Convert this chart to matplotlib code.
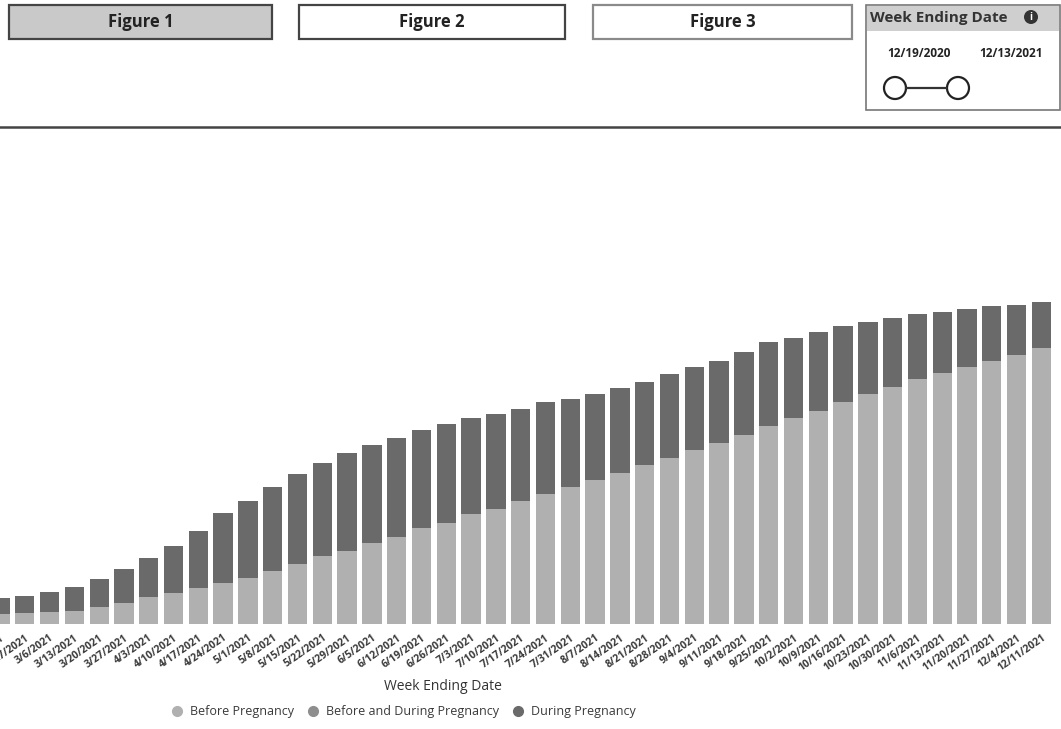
import matplotlib
matplotlib.use("Agg")
import matplotlib.pyplot as plt
from matplotlib.patches import Rectangle, Circle
from matplotlib.lines import Line2D

plt.rcParams['font.family'] = ['Open Sans', 'DejaVu Sans']

# Week ending dates (first one is cut off at the left edge of the visual)
weeks = ["2/20/2021", "2/27/2021", "3/6/2021", "3/13/2021", "3/20/2021", "3/27/2021",
         "4/3/2021", "4/10/2021", "4/17/2021", "4/24/2021", "5/1/2021", "5/8/2021",
         "5/15/2021", "5/22/2021", "5/29/2021", "6/5/2021", "6/12/2021", "6/19/2021",
         "6/26/2021", "7/3/2021", "7/10/2021", "7/17/2021", "7/24/2021", "7/31/2021",
         "8/7/2021", "8/14/2021", "8/21/2021", "8/28/2021", "9/4/2021", "9/11/2021",
         "9/18/2021", "9/25/2021", "10/2/2021", "10/9/2021", "10/16/2021", "10/23/2021",
         "10/30/2021", "11/6/2021", "11/13/2021", "11/20/2021", "11/27/2021", "12/4/2021",
         "12/11/2021"]

# cumulative percentages
before_preg = [1.3, 1.4, 1.5, 1.6, 2.1, 2.6, 3.4, 3.9, 4.5, 5.1, 5.8, 6.6, 7.5, 8.5,
               9.1, 10.1, 10.9, 12.0, 12.6, 13.8, 14.4, 15.4, 16.3, 17.1, 18.0, 18.9,
               19.9, 20.8, 21.8, 22.6, 23.6, 24.8, 25.8, 26.6, 27.8, 28.8, 29.6, 30.6,
               31.4, 32.1, 32.9, 33.6, 34.5]
before_and_during = [0.0] * len(weeks)  # not visible in the scan
during_preg = [2.0, 2.1, 2.5, 3.0, 3.5, 4.3, 4.8, 5.9, 7.1, 8.8, 9.6, 10.5, 11.3, 11.6,
               12.3, 12.3, 12.4, 12.3, 12.4, 12.0, 11.9, 11.5, 11.4, 11.0, 10.8, 10.6,
               10.4, 10.4, 10.3, 10.3, 10.4, 10.4, 10.0, 9.9, 9.4, 9.0, 8.6, 8.1,
               7.6, 7.3, 6.8, 6.3, 5.8]

series_names = ["Before Pregnancy", "Before and During Pregnancy", "During Pregnancy"]
colors = ["#b0b0b0", "#8e8e8e", "#6a6a6a"]

W, H = 1061, 729
fig = plt.figure(figsize=(W / 100, H / 100), dpi=100)

# main chart area
ax = fig.add_axes([0, 105 / H, 1, 334 / H])
x = list(range(len(weeks)))
top_bottom = [a + b for a, b in zip(before_preg, before_and_during)]
ax.bar(x, before_preg, width=0.78, color=colors[0])
ax.bar(x, before_and_during, width=0.78, bottom=before_preg, color=colors[1])
ax.bar(x, during_preg, width=0.78, bottom=top_bottom, color=colors[2])
ax.set_xlim(0.35, 42.79)
ax.set_ylim(0, 41.75)
ax.set_yticks([])
for s in ax.spines.values():
    s.set_visible(False)
ax.set_xticks(x)
ax.set_xticklabels(weeks, rotation=35, ha='right', rotation_mode='anchor',
                   fontsize=7.5, color="#3a3a3a", fontweight='bold')
ax.tick_params(axis='x', length=0, pad=6)

fig.text(443 / W, 1 - 686 / H, "Week Ending Date", ha='center', va='center',
         fontsize=10, color="#333333")

handles = [Line2D([], [], marker='o', linestyle='none', markersize=7,
                  markerfacecolor=c, markeredgecolor=c) for c in colors]
fig.legend(handles, series_names, loc='center', bbox_to_anchor=(400 / W, 1 - 712 / H),
           ncol=3, frameon=False, fontsize=9, handletextpad=0.05, columnspacing=0.5,
           labelcolor="#3a3a3a")

# top buttons / slicer drawn on a figure-wide overlay
ov = fig.add_axes([0, 0, 1, 1], zorder=-1)
ov.set_xlim(0, W)
ov.set_ylim(H, 0)
ov.axis('off')

buttons = [("Figure 1", 9, 272, "#c9c9c9", "#444444"),
           ("Figure 2", 299, 565, "white", "#444444"),
           ("Figure 3", 593, 852, "white", "#8a8a8a")]
for label, x0, x1, fc, ec in buttons:
    ov.add_patch(Rectangle((x0, 5), x1 - x0, 34, facecolor=fc, edgecolor=ec, lw=1.6))
    ov.text((x0 + x1) / 2, 22, label, ha='center', va='center', fontsize=12,
            fontweight='bold', color="#222222")

# date range slicer
ov.add_patch(Rectangle((866, 5), 194, 105, facecolor='white', edgecolor="#777777", lw=1.2))
ov.add_patch(Rectangle((867, 6), 192, 25, facecolor="#cfcfcf", edgecolor='none'))
ov.text(870, 18, "Week Ending Date", ha='left', va='center', fontsize=11,
        fontweight='bold', color="#333333")
ov.add_patch(Circle((1031, 17), 7, facecolor="#333333", edgecolor='none'))
ov.text(1031, 17, "i", ha='center', va='center', fontsize=7, color='white',
        fontweight='bold')
ov.text(919, 53, "12/19/2020", ha='center', va='center', fontsize=8.5,
        fontweight='bold', color="#222222")
ov.text(1011, 53, "12/13/2021", ha='center', va='center', fontsize=8.5,
        fontweight='bold', color="#222222")
ov.plot([906, 946], [88, 88], color="#333333", lw=1.6)
for cx in (895, 958):
    ov.add_patch(Circle((cx, 88), 11, facecolor='white', edgecolor="#222222", lw=1.6))

# separator line under the header
ov.plot([0, W], [127, 127], color="#444444", lw=1.8)

fig.savefig("out.png", dpi=100)
